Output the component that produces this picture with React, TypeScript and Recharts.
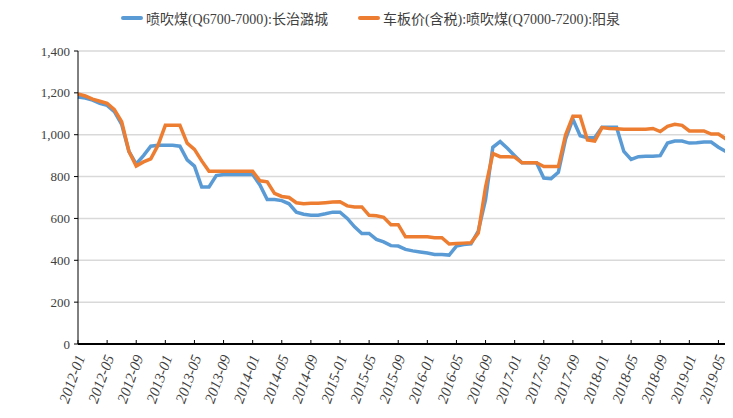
import React from 'react';
import { LineChart, Line, XAxis, YAxis, CartesianGrid, Legend } from 'recharts';

const months = [
  '2012-01','2012-02','2012-03','2012-04','2012-05','2012-06','2012-07','2012-08','2012-09','2012-10','2012-11','2012-12',
  '2013-01','2013-02','2013-03','2013-04','2013-05','2013-06','2013-07','2013-08','2013-09','2013-10','2013-11','2013-12',
  '2014-01','2014-02','2014-03','2014-04','2014-05','2014-06','2014-07','2014-08','2014-09','2014-10','2014-11','2014-12',
  '2015-01','2015-02','2015-03','2015-04','2015-05','2015-06','2015-07','2015-08','2015-09','2015-10','2015-11','2015-12',
  '2016-01','2016-02','2016-03','2016-04','2016-05','2016-06','2016-07','2016-08','2016-09','2016-10','2016-11','2016-12',
  '2017-01','2017-02','2017-03','2017-04','2017-05','2017-06','2017-07','2017-08','2017-09','2017-10','2017-11','2017-12',
  '2018-01','2018-02','2018-03','2018-04','2018-05','2018-06','2018-07','2018-08','2018-09','2018-10','2018-11','2018-12',
  '2019-01','2019-02','2019-03','2019-04','2019-05','2019-06','2019-07',
];

const changzhiLucheng = [
  1180, 1175, 1165, 1150, 1140, 1110, 1050, 920, 860, 900, 945, 950,
  950, 950, 945, 880, 850, 750, 750, 805, 810, 810, 810, 810,
  810, 760, 690, 690, 685, 670, 630, 620, 615, 615, 622, 630,
  630, 600, 560, 528, 528, 500, 488, 470, 468, 452, 445, 440,
  435, 428, 428, 425, 468, 475, 478, 540, 690, 940, 967, 935,
  900, 866, 866, 866, 793, 790, 820, 980, 1074, 995, 985, 985,
  1036, 1036, 1036, 920, 882, 895, 897, 897, 900, 960, 970, 970,
  960, 962, 965, 965, 940, 920, 920,
];

const yangquan = [
  1195, 1185, 1170, 1160, 1150, 1120, 1062, 920, 850, 870, 885, 950,
  1045, 1045, 1045, 960, 930, 875, 825, 825, 825, 825, 825, 825,
  825, 780, 775, 720, 705, 700, 675, 670, 672, 672, 675, 678,
  680, 660, 655, 655, 615, 613, 605, 570, 570, 512, 512, 512,
  512, 508, 508, 478, 480, 482, 484, 530, 750, 910, 895, 895,
  893, 866, 866, 866, 848, 848, 848, 1000, 1088, 1088, 975, 970,
  1034, 1030, 1028, 1026, 1026, 1026, 1026, 1030, 1015, 1040, 1050, 1045,
  1018, 1018, 1018, 1003, 1003, 980, 978,
];

const yTicks = [0, 200, 400, 600, 800, 1000, 1200, 1400];
const seriesNames = ['喷吹煤(Q6700-7000):长治潞城', '车板价(含税):喷吹煤(Q7000-7200):阳泉'];
const seriesColors = ['#5B9BD5', '#ED7D31'];

const data = months.map((m, i) => ({
  month: m,
  blue: changzhiLucheng[i],
  orange: yangquan[i],
}));

const FONT = "'Liberation Serif', 'Times New Roman', Tinos, 'DejaVu Serif', serif, 'Noto Sans CJK SC'";

const XTick = (props: any) => {
  const { x, y, payload } = props;
  return (
    <g>
      <line x1={x} x2={x} y1={y} y2={y - 4} stroke="#000" strokeWidth={1} />
      <text
        transform={`translate(${x + 4},${y + 12}) rotate(-70)`}
        textAnchor="end"
        dominantBaseline="middle"
        fontSize={15}
        fontStyle="italic"
        style={{ fontFamily: FONT }}
        fill="#404040"
      >
        {payload.value}
      </text>
    </g>
  );
};

const LegendContent = () => (
  <div
    style={{
      display: 'flex',
      justifyContent: 'center',
      alignItems: 'center',
      gap: 30,
      fontFamily: FONT,
      fontSize: 14,
      color: '#404040',
      width: 725,
      height: 20,
    }}
  >
    {seriesNames.map((n, i) => (
      <div key={n} style={{ display: 'flex', alignItems: 'center' }}>
        <span
          style={{
            display: 'inline-block',
            width: 22,
            height: 4,
            borderRadius: 2,
            background: seriesColors[i],
            marginRight: 3,
          }}
        />
        <span>{n}</span>
      </div>
    ))}
  </div>
);

export default function App() {
  return (
    <LineChart
      width={725}
      height={410}
      data={data}
      margin={{ top: 23, right: 0, bottom: 0, left: 10 }}
    >
      <CartesianGrid vertical={false} stroke="#D9D9D9" strokeWidth={1.5} />
      <XAxis
        dataKey="month"
        scale="point"
        padding={{ left: 0, right: 0 }}
        interval={3}
        height={74}
        tickSize={0}
        tickMargin={0}
        tickLine={false}
        axisLine={{ stroke: '#000', strokeWidth: 2 }}
        tick={<XTick />}
      />
      <YAxis
        width={60}
        domain={[0, 1400]}
        ticks={yTicks}
        tickFormatter={(v: number) => v.toLocaleString('en-US')}
        tickSize={4}
        tickMargin={4}
        axisLine={{ stroke: '#000', strokeWidth: 1 }}
        tickLine={{ stroke: '#000' }}
        tick={{ fontSize: 13, fill: '#404040', style: { fontFamily: FONT } }}
      />
      <Legend
        verticalAlign="top"
        content={<LegendContent />}
        wrapperStyle={{ top: 0, left: 0, width: 725 }}
      />
      <Line
        type="linear"
        dataKey="blue"
        name={seriesNames[0]}
        stroke={seriesColors[0]}
        strokeWidth={3.5}
        dot={false}
        isAnimationActive={false}
      />
      <Line
        type="linear"
        dataKey="orange"
        name={seriesNames[1]}
        stroke={seriesColors[1]}
        strokeWidth={3.5}
        dot={false}
        isAnimationActive={false}
      />
    </LineChart>
  );
}
